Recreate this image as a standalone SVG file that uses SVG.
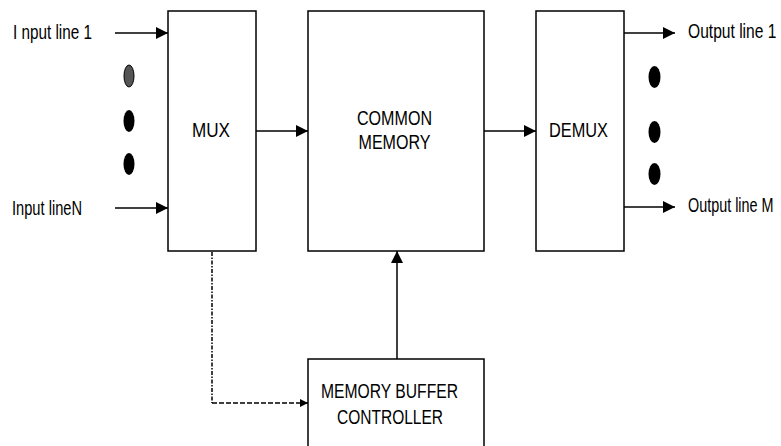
<svg xmlns="http://www.w3.org/2000/svg" width="781" height="446" viewBox="0 0 781 446">
<defs>
<style>
.box{fill:#fff;stroke:#000;stroke-width:1.5}
.ln{fill:none;stroke:#000;stroke-width:1.5}
.t{font-family:"Liberation Sans",Arial,sans-serif;font-size:20px;fill:#000}
.dot{fill:#000}
</style>
<marker id="ah" viewBox="0 0 10 10" refX="10" refY="5" markerWidth="12" markerHeight="12" markerUnits="userSpaceOnUse" orient="auto">
<path d="M0,0 L10,5 L0,10 Z" fill="#000"/>
</marker>
<marker id="ahs" viewBox="0 0 10 10" refX="10" refY="5" markerWidth="8" markerHeight="9" markerUnits="userSpaceOnUse" orient="auto">
<path d="M0,0 L10,5 L0,10 Z" fill="#000"/>
</marker>
</defs>
<rect width="781" height="446" fill="#fff"/>
<g id="connectors">
<line class="ln" x1="115" y1="33" x2="168" y2="33" marker-end="url(#ah)"/>
<line class="ln" x1="115" y1="208" x2="168" y2="208" marker-end="url(#ah)"/>
<line class="ln" x1="256" y1="131" x2="308" y2="131" marker-end="url(#ah)"/>
<line class="ln" x1="484" y1="131" x2="536" y2="131" marker-end="url(#ah)"/>
<line class="ln" x1="624" y1="33" x2="675" y2="33" marker-end="url(#ah)"/>
<line class="ln" x1="624" y1="207" x2="675" y2="207" marker-end="url(#ah)"/>
<line class="ln" x1="397" y1="359" x2="397" y2="251" marker-end="url(#ah)"/>
<line x1="212" y1="252" x2="212" y2="403" fill="none" stroke="#000" stroke-width="1.5" stroke-dasharray="4,1.5,1.5,1.5"/>
<line x1="212" y1="403" x2="308" y2="403" fill="none" stroke="#000" stroke-width="1.5" stroke-dasharray="5,2" marker-end="url(#ahs)"/>
</g>
<g id="input-labels">
<text class="t" x="13" y="39" textLength="79" lengthAdjust="spacingAndGlyphs">I nput line  1</text>
<text class="t" x="12" y="215" textLength="70" lengthAdjust="spacingAndGlyphs">Input lineN</text>
<ellipse cx="129" cy="76" rx="5" ry="11" fill="#555" stroke="#000" stroke-width="1"/>
<ellipse class="dot" cx="129" cy="121" rx="5.5" ry="11"/>
<ellipse class="dot" cx="129" cy="164" rx="5.5" ry="11"/>
</g>
<g id="mux">
<rect class="box" x="168" y="11" width="88" height="240"/>
<text class="t" x="211" y="137" text-anchor="middle" textLength="38" lengthAdjust="spacingAndGlyphs">MUX</text>
</g>
<g id="common-memory">
<rect class="box" x="308" y="11" width="176" height="240"/>
<text class="t" x="394.5" y="125" text-anchor="middle" textLength="75" lengthAdjust="spacingAndGlyphs">COMMON</text>
<text class="t" x="394.5" y="149" text-anchor="middle" textLength="72" lengthAdjust="spacingAndGlyphs">MEMORY</text>
</g>
<g id="demux">
<rect class="box" x="536" y="11" width="88" height="240"/>
<text class="t" x="578.5" y="137" text-anchor="middle" textLength="59" lengthAdjust="spacingAndGlyphs">DEMUX</text>
</g>
<g id="output-labels">
<text class="t" transform="translate(688,38) scale(0.78,1)">Output line 1</text>
<text class="t" transform="translate(688,212) scale(0.72,1)">Output line M</text>
<ellipse class="dot" cx="654.5" cy="77" rx="6" ry="11"/>
<ellipse class="dot" cx="654.5" cy="132" rx="6" ry="11"/>
<ellipse class="dot" cx="654.5" cy="174" rx="6" ry="11"/>
</g>
<g id="memory-buffer-controller">
<rect class="box" x="308" y="359" width="176" height="100"/>
<text class="t" x="389.5" y="398" text-anchor="middle" textLength="137" lengthAdjust="spacingAndGlyphs">MEMORY BUFFER</text>
<text class="t" x="390" y="424" text-anchor="middle" textLength="106" lengthAdjust="spacingAndGlyphs">CONTROLLER</text>
</g>
</svg>
